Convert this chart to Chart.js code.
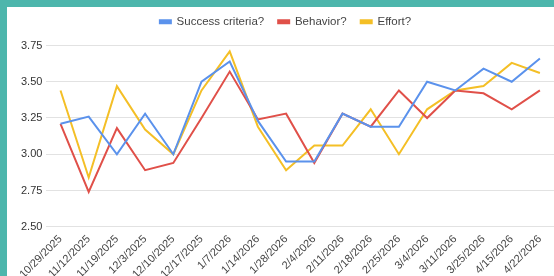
<!DOCTYPE html>
<html>
<head>
<meta charset="utf-8">
<script src="https://cdn.jsdelivr.net/npm/chart.js@4.4.1/dist/chart.umd.min.js"></script>
<style>
  html, body { margin: 0; padding: 0; }
  body { background: #4db6ac; width: 554px; height: 276px; overflow: hidden; position: relative; }
  #card { position: absolute; left: 7px; top: 7px; width: 547px; height: 269px; background: #fff; overflow: hidden; }
</style>
</head>
<body>
<div id="card"><canvas id="lineChart" width="547" height="272"></canvas></div>
<script>
// week labels along the x axis
const weeks = [
  "10/29/2025", "11/12/2025", "11/19/2025", "12/3/2025", "12/10/2025", "12/17/2025",
  "1/7/2026", "1/14/2026", "1/28/2026", "2/4/2026", "2/11/2026", "2/18/2026",
  "2/25/2026", "3/4/2026", "3/11/2026", "3/25/2026", "4/15/2026", "4/22/2026"
];

// average answers per week
const successCriteria = [3.21, 3.26, 3.0, 3.28, 3.0, 3.5, 3.64, 3.23, 2.95, 2.95, 3.28, 3.19, 3.19, 3.5, 3.44, 3.59, 3.5, 3.66];
const behavior = [3.21, 2.74, 3.18, 2.89, 2.94, 3.25, 3.57, 3.24, 3.28, 2.94, 3.28, 3.19, 3.44, 3.25, 3.44, 3.42, 3.31, 3.44];
const effort = [3.44, 2.84, 3.47, 3.17, 3.0, 3.44, 3.71, 3.19, 2.89, 3.06, 3.06, 3.31, 3.0, 3.31, 3.44, 3.47, 3.63, 3.56];

const yTicks = [2.5, 2.75, 3.0, 3.25, 3.5, 3.75];

const font = "Arial, 'Liberation Sans', sans-serif";
const ctx = document.getElementById("lineChart").getContext("2d");

function series(label, data, color) {
  return {
    label,
    data,
    borderColor: color,
    backgroundColor: color,
    borderWidth: 2,
    pointRadius: 0,
    tension: 0,
  };
}

// legend sits high, with a gap before the plot
const legendMargin = {
  id: "legendMargin",
  beforeInit(chart) {
    const fit = chart.legend.fit;
    chart.legend.fit = function () {
      fit.bind(chart.legend)();
      this.height += 8;
    };
  },
};

new Chart(ctx, {
  type: "line",
  data: {
    labels: weeks,
    datasets: [
      series("Success criteria?", successCriteria, "#5b92ec"),
      series("Behavior?", behavior, "#e05049"),
      series("Effort?", effort, "#f4bf26"),
    ],
  },
  plugins: [legendMargin],
  options: {
    responsive: false,
    animation: false,
    layout: { padding: { left: 10, right: 0, top: -5, bottom: 0 } },
    plugins: {
      legend: {
        position: "top",
        labels: {
          boxWidth: 11,
          boxHeight: 3,
          padding: 14,
          color: "#444",
          font: { family: font, size: 11.5 },
        },
      },
      tooltip: { enabled: false },
    },
    scales: {
      x: {
        offset: true,
        grid: { display: false },
        border: { display: false },
        ticks: {
          autoSkip: false,
          maxRotation: 45,
          minRotation: 45,
          padding: -2,
          color: "#444",
          font: { family: font, size: 11 },
        },
      },
      y: {
        min: 2.5,
        max: 3.75,
        afterBuildTicks: (axis) => {
          axis.ticks = yTicks.map((v) => ({ value: v }));
        },
        grid: { color: "#e2e2e2", lineWidth: 1, drawTicks: false },
        border: { display: false },
        ticks: {
          padding: 4,
          color: "#333",
          font: { family: font, size: 11 },
          callback: (v) => Number(v).toFixed(2),
        },
      },
    },
  },
});
</script>
</body>
</html>
